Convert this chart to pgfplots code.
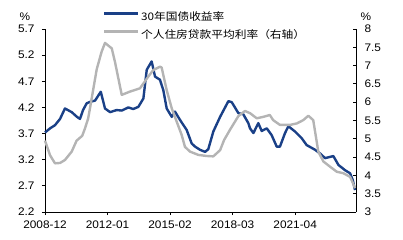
\documentclass[border=0pt]{standalone}
\usepackage{fontspec}
\setmainfont{Liberation Sans}[FakeStretch=1.08]
\newfontfamily\cjk{Noto Sans CJK SC}[FakeStretch=1.12]
\usepackage{pgfplots}
\pgfplotsset{compat=1.18}
\definecolor{bondblue}{RGB}{26,64,135}
\definecolor{mortgray}{RGB}{180,180,180}
\begin{document}
\begin{tikzpicture}
\useasboundingbox (-45bp,-28bp) rectangle (358bp,212bp);
\begin{axis}[
  scale only axis, width=311bp, height=183bp,
  xmin=0, xmax=184, ymin=2.2, ymax=5.7,
  axis x line*=bottom, axis y line*=left,
  axis line style={line width=0.8bp, -},
  xtick={0,37,74,111,148},
  xticklabels={2008-12,2012-01,2015-02,2018-03,2021-04},
  ytick={2.2,2.7,3.2,3.7,4.2,4.7,5.2,5.7},
  yticklabels={2.2,2.7,3.2,3.7,4.2,4.7,5.2,5.7},
  tick align=outside, major tick length=3bp,
  tick style={line width=0.8bp, black},
  ticklabel style={font=\fontsize{11}{12}\selectfont},
  yticklabel style={xshift=-4bp},
  xticklabel style={yshift=-2bp},
  /pgf/number format/assume math mode=true,
  clip=false,
]
\addplot[bondblue, line width=2.4bp, line join=round] coordinates {
(0,3.72) (3,3.80) (5.9,3.86) (8.9,3.98) (11.8,4.18) (15.8,4.11) (18.9,4.02) (20.7,3.98)
(22.5,4.15) (24.7,4.28) (27,4.31) (29.6,4.33) (33,4.50) (35.5,4.18) (38.5,4.11)
(42.4,4.15) (45.4,4.14) (49.3,4.20) (52.2,4.17) (55.2,4.21) (58.2,4.37) (60.2,4.92)
(63.1,5.08) (65.1,4.79) (68,4.73) (70,4.53) (72,4.18) (75,4.02) (76.9,4.12)
(79.9,3.96) (83.8,3.77) (86.8,3.51) (88.8,3.45) (91.7,3.39) (94.7,3.35) (96.6,3.40)
(99.6,3.74) (103.6,4.02) (108.5,4.32) (110.5,4.30) (114.4,4.09) (117.3,4.07)
(120.3,3.90) (121.3,3.80) (123.3,3.71) (126.2,3.90) (128.2,3.75) (131.2,3.80)
(134.1,3.67) (137.1,3.45) (139,3.45) (142,3.71) (144,3.84) (147.9,3.74) (151.9,3.61)
(154.8,3.48) (159.8,3.39) (162.7,3.32) (165.7,3.23) (170.6,3.27) (173.6,3.10)
(177.5,3.00) (180.5,2.94) (182.1,2.81) (183.4,2.62)
};
\node[font=\fontsize{11}{12}\selectfont] at (rel axis cs:0,1) [xshift=-20bp,yshift=12bp] {\%};
\end{axis}
\begin{axis}[
  scale only axis, width=311bp, height=183bp,
  xmin=0, xmax=184, ymin=3, ymax=8,
  axis x line=none, axis y line*=right,
  axis line style={line width=0.8bp, -},
  ytick={3,3.5,4,4.5,5,5.5,6,6.5,7,7.5,8},
  yticklabels={3,3.5,4,4.5,5,5.5,6,6.5,7,7.5,8},
  tick align=inside, major tick length=3bp,
  tick style={line width=0.8bp, black},
  ticklabel style={font=\fontsize{11}{12}\selectfont},
  yticklabel style={xshift=5bp},
  /pgf/number format/assume math mode=true,
  clip=false,
  legend style={draw=none, fill=none, inner sep=0pt, at={(0.1865,1.093)}, anchor=north west,
    font=\cjk\fontsize{10.5}{12}\selectfont, row sep=8bp, column sep=1.5bp,
    nodes={inner sep=0pt, text height=8bp, text depth=2bp}},
  legend cell align=left,
  legend image code/.code={\draw[#1] (0bp,3.5bp) -- (34bp,3.5bp);},
]
\addlegendimage{bondblue, line width=2.4bp}
\addlegendentry{30年国债收益率}
\addplot[mortgray, line width=2.4bp, line join=round] coordinates {
(0,4.95) (3,4.55) (5.9,4.33) (8.9,4.34) (11.8,4.42) (15.8,4.65) (18.7,4.95) (22,5.08)
(23.7,5.29) (25.5,5.55) (26.6,5.83) (30.6,6.90) (33.5,7.38) (35.5,7.62) (39.5,7.47)
(41.4,7.10) (45.4,6.20) (50.3,6.29) (56.2,6.38) (61.1,6.70) (64.1,6.88) (68,6.97)
(69,6.95) (72,6.33) (75,5.83) (77.9,5.47) (80.9,5.10) (82.8,4.78) (85.8,4.65)
(90.7,4.56) (95.7,4.53) (99.6,4.52) (103.6,4.69) (106,4.97) (109.5,5.25) (114.4,5.62)
(118.3,5.76) (121.3,5.70) (125.3,5.56) (129.2,5.60) (133,5.65) (135,5.51) (139,5.38)
(145,5.38) (149,5.42) (152.8,5.51) (155.8,5.63) (158.7,5.51) (161.7,4.65) (164.7,4.38)
(168.6,4.24) (172.6,4.10) (176.5,4.06) (180.5,3.96) (181.8,3.83) (183.4,3.65)
};
\addlegendentry{个人住房贷款平均利率（右轴）}
\node[font=\fontsize{11}{12}\selectfont] at (rel axis cs:1,1) [xshift=10bp,yshift=12bp] {\%};
\end{axis}
\end{tikzpicture}
\end{document}
